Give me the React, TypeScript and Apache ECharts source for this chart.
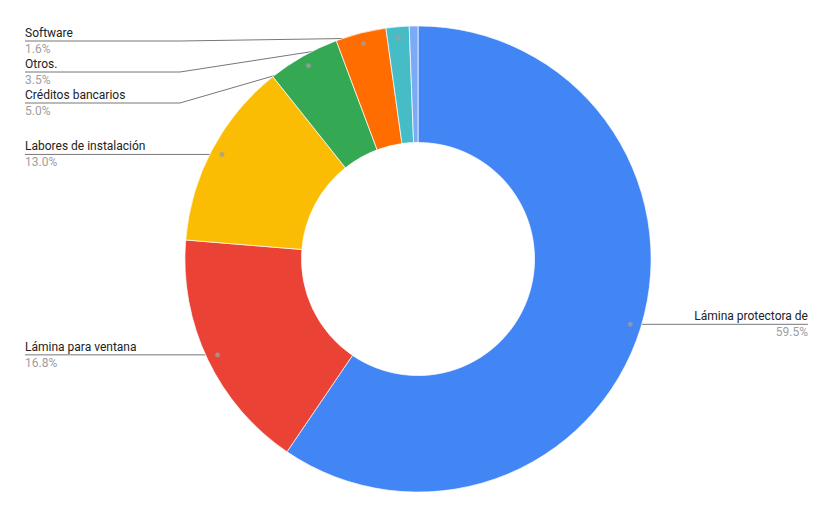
import React, { useEffect, useRef } from 'react';
import * as echarts from 'echarts';

const categories = [
  'Lámina protectora de',
  'Lámina para ventana',
  'Labores de instalación',
  'Créditos bancarios',
  'Otros.',
  'Software',
  '',
];
const values = [59.5, 16.8, 13.0, 5.0, 3.5, 1.6, 0.6];
const colors = ['#4285f4', '#ea4335', '#fbbc04', '#34a853', '#ff6d01', '#46bdc6', '#7baaf7'];

const W = 836;
const H = 518;
const OUTER = 0.9;
const INNER = 0.45;
const DOT_FRAC = 0.953;
const EDGE_LEFT = 25;
const EDGE_RIGHT = 28;
const GAP = 31;
const TOP_MIN = 41;

const total = values.reduce((a, b) => a + b, 0);
const mids: number[] = [];
{
  let acc = 0;
  values.forEach((v) => {
    mids.push(acc + v / 2);
    acc += v;
  });
}

function computeLayout(w: number, h: number) {
  const cx = w / 2;
  const cy = h / 2;
  const R = (Math.min(w, h) / 2) * OUTER;
  const rd = R * DOT_FRAC;
  const items = values.map((v, i) => {
    const a = (mids[i] / total) * Math.PI * 2;
    const dx = Math.sin(a);
    const dy = -Math.cos(a);
    return { i, left: dx < 0, dotX: cx + rd * dx, dotY: cy + rd * dy, y: 0 };
  });
  [true, false].forEach((side) => {
    const list = items.filter((it) => it.left === side && categories[it.i] !== '').sort((a, b) => a.dotY - b.dotY);
    let prev = -Infinity;
    list.forEach((it) => {
      it.y = Math.max(it.dotY, prev + GAP, TOP_MIN);
      prev = it.y;
    });
  });
  return { cx, cy, R, items };
}

export default function App() {
  const ref = useRef<HTMLDivElement>(null);
  useEffect(() => {
    document.body.style.margin = '0';
    if (!ref.current) return;
    const chart = echarts.init(ref.current, undefined, { renderer: 'svg' });
    const lay = computeLayout(W, H);
    const option: any = {
      animation: false,
      backgroundColor: '#ffffff',
      textStyle: { fontFamily: 'Roboto' },
      polar: { center: ['50%', '50%'], radius: OUTER * 100 + '%' },
      angleAxis: { type: 'value', min: 0, max: total, startAngle: 90, clockwise: true, show: false },
      radiusAxis: { type: 'value', min: 0, max: 1, show: false },
      series: [
        {
          type: 'pie',
          center: ['50%', '50%'],
          radius: [INNER * 100 + '%', OUTER * 100 + '%'],
          startAngle: 90,
          clockwise: true,
          avoidLabelOverlap: false,
          silent: true,
          itemStyle: { borderColor: '#ffffff', borderWidth: 0.7 },
          label: {
            show: true,
            position: 'outside',
            alignTo: 'edge',
            edgeDistance: EDGE_LEFT,
            fontFamily: 'Roboto',
            formatter: (p: any) => `{n|${p.name}}\n{p|${p.value.toFixed(1)}%}`,
            rich: {
              n: { fontSize: 12, color: '#222222', lineHeight: 16, fontFamily: 'Roboto' },
              p: { fontSize: 12, color: '#9e9e9e', lineHeight: 16, fontFamily: 'Roboto' },
            },
          },
          labelLine: { show: true, length: 10, length2: 10, lineStyle: { color: '#777777', width: 1 } },
          labelLayout: (params: any) => {
            const it = lay.items[params.dataIndex];
            if (!it || categories[params.dataIndex] === '') return {};
            const bendX = it.left ? lay.cx - lay.R - 5 : lay.cx + lay.R + 5;
            const edgeX = it.left ? EDGE_LEFT : W - EDGE_RIGHT;
            return {
              x: edgeX,
              y: it.y,
              align: it.left ? 'left' : 'right',
              verticalAlign: 'middle',
              labelLinePoints: [
                [it.dotX, it.dotY],
                [bendX, it.y],
                [edgeX, it.y],
              ],
            };
          },
          data: values.map((v, i) => ({
            name: categories[i],
            value: v,
            itemStyle: { color: colors[i] },
            label: categories[i] === '' ? { show: false } : undefined,
            labelLine: categories[i] === '' ? { show: false } : undefined,
          })),
        },
        {
          type: 'scatter',
          coordinateSystem: 'polar',
          silent: true,
          z: 10,
          symbol: 'circle',
          symbolSize: 5,
          itemStyle: { color: '#9e9e9e' },
          data: values
            .map((v, i) => (categories[i] === '' ? null : [DOT_FRAC, mids[i]]))
            .filter((d) => d !== null),
        },
      ],
    };
    chart.setOption(option);
    return () => chart.dispose();
  }, []);
  return <div ref={ref} style={{ width: W, height: H }} />;
}
